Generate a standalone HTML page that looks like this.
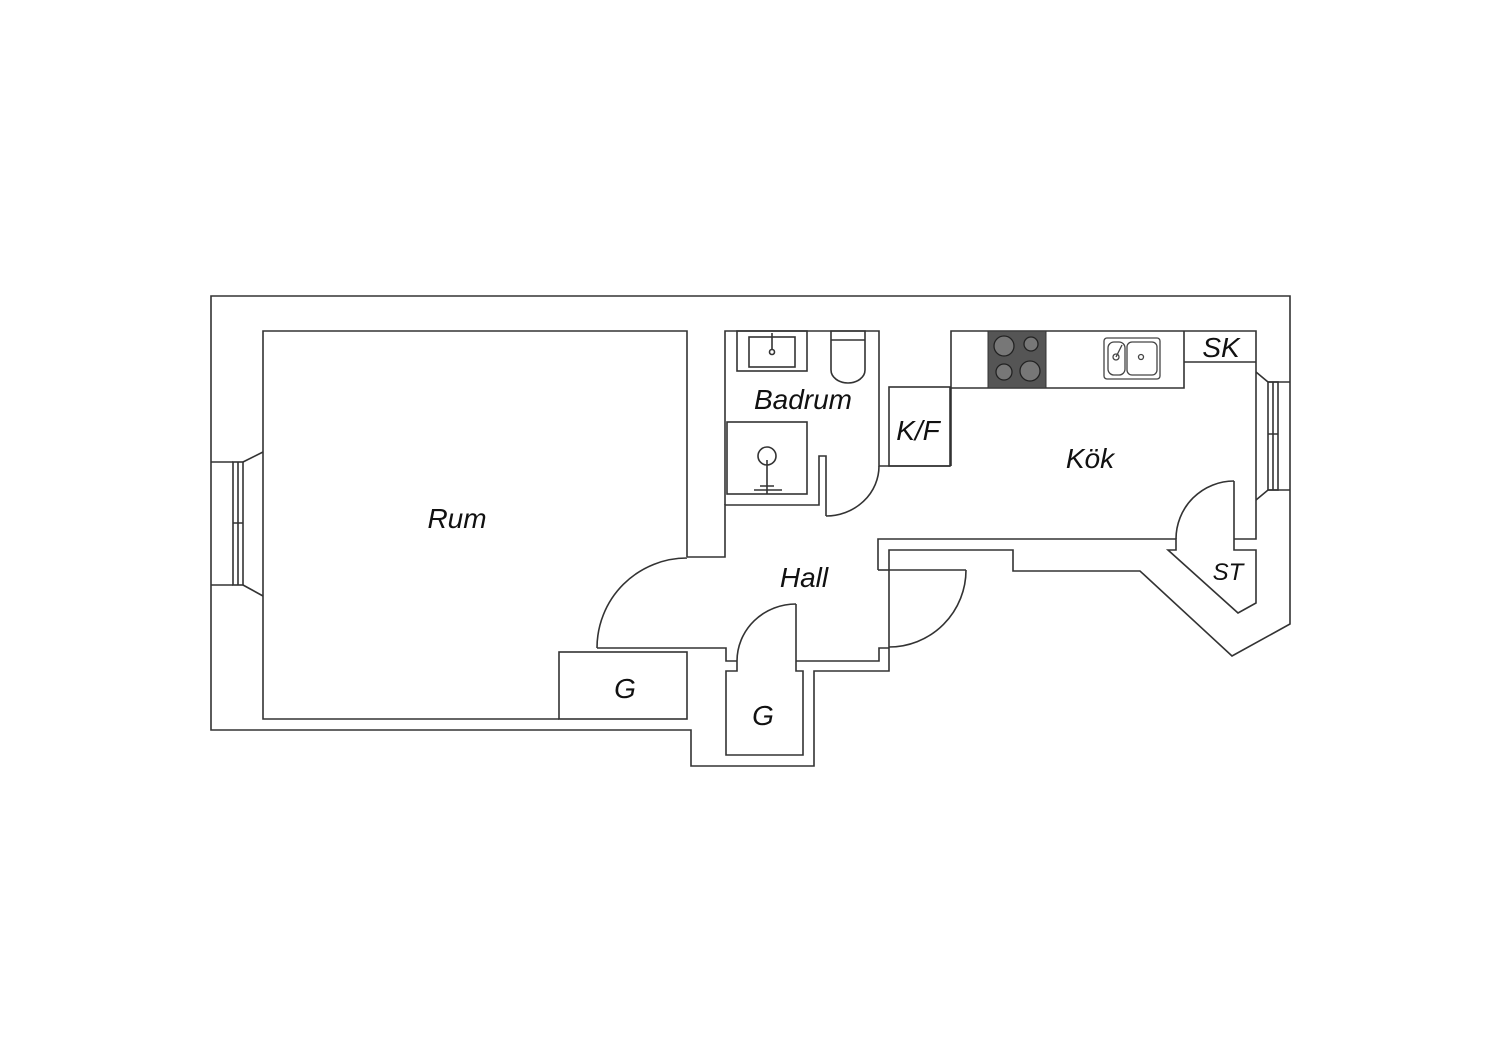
<!DOCTYPE html>
<html><head><meta charset="utf-8"><style>
html,body{margin:0;padding:0;background:#fff;width:1500px;height:1060px;overflow:hidden}
svg text{font-family:"Liberation Sans",sans-serif;font-style:italic;fill:#111}
</style></head><body>
<svg width="1500" height="1060" viewBox="0 0 1500 1060" xmlns="http://www.w3.org/2000/svg">
<g fill="none" stroke="#333" stroke-width="1.6">
<!-- outer boundary -->
<path d="M211,296 H1290 V624 L1232,656 L1140,571 H1013 V550 H889 V671 H814 V766 H691 V730 H211 Z"/>
<path d="M889,648 H879 V661 H796"/>
<!-- Rum -->
<path d="M687,557 V331 H263 V719 H559"/>
<rect x="559" y="652" width="128" height="67"/>
<!-- Rum door -->
<path d="M597,648 A90,90 0 0 1 687,558"/>
<path d="M687,557 H725 V505 H819 V456 H826 V516"/>
<path d="M597,648 H726 V661 H737"/>
<!-- bathroom -->
<path d="M725,505 V331 H879 V466 H950"/>
<path d="M879,466 A53,50 0 0 1 826,516"/>
<rect x="889" y="387" width="61" height="79"/>
<!-- kitchen -->
<path d="M951,466 V331 H1256 V539 H1234"/>
<path d="M951,388 H1184 V331 M1184,362 H1256"/>
<path d="M878,570 V539 H1176 V550 H1168 L1238,613 L1256,603 V550 H1234 V539 M1234,539 V481"/>
<path d="M1234,481 A58,58 0 0 0 1176,539"/>
<path d="M878,570 H889"/>
<!-- hall right door -->
<path d="M966,570 A77,77 0 0 1 889,647"/>
<path d="M966,570 H889"/>
<!-- G closet -->
<path d="M737,661 V671 H726 V755 H803 V671 H796 V661"/>
<path d="M796,661 V604"/>
<path d="M796,604 A59,57 0 0 0 737,661"/>
<!-- left window -->
<path d="M211,462 H233 M243,462 L263,452 M211,585 H233 M243,585 L263,596"/>
<rect x="233" y="462" width="10" height="123"/>
<path d="M238,462 V585 M233,523 H243"/>
<!-- right window -->
<path d="M1256,372 L1268,382 H1290 M1256,500 L1268,490 H1290"/>
<rect x="1268" y="382" width="10" height="108"/>
<path d="M1273,382 V490 M1268,434 H1278"/>
<!-- bath fixtures -->
<rect x="737" y="331" width="70" height="40"/>
<rect x="749" y="337" width="46" height="30"/>
<path d="M772,333 V350"/><circle cx="772" cy="352" r="2.5"/>
<path d="M831,331 H865 V370 A17,13 0 0 1 831,370 Z M831,340 H865"/>
<rect x="727" y="422" width="80" height="72"/>
<circle cx="767" cy="456" r="9"/>
<path d="M767,460 V494 M754,490 H782 M760,486 H774"/>
</g>
<rect x="988" y="331" width="58" height="57" fill="#555" stroke="#333"/>
<g fill="#777" stroke="#222" stroke-width="1.3">
<circle cx="1004" cy="346" r="10"/><circle cx="1031" cy="344" r="7"/>
<circle cx="1004" cy="372" r="8"/><circle cx="1030" cy="371" r="10"/>
</g>
<g fill="none" stroke="#444" stroke-width="1.3">
<rect x="1104" y="338" width="56" height="41" rx="3"/>
<rect x="1108" y="342" width="17" height="33" rx="6"/>
<rect x="1127" y="342" width="30" height="33" rx="5"/>
<circle cx="1116" cy="357" r="3"/><circle cx="1141" cy="357" r="2.5"/>
<path d="M1116,357 L1122,345"/>
</g>
<text x="457" y="528" font-size="28" text-anchor="middle">Rum</text>
<text x="803" y="409" font-size="28" text-anchor="middle">Badrum</text>
<text x="918" y="440" font-size="28" text-anchor="middle">K/F</text>
<text x="1090" y="468" font-size="28" text-anchor="middle">Kök</text>
<text x="1221" y="357" font-size="28" text-anchor="middle">SK</text>
<text x="804" y="587" font-size="28" text-anchor="middle">Hall</text>
<text x="625" y="698" font-size="28" text-anchor="middle">G</text>
<text x="763" y="725" font-size="28" text-anchor="middle">G</text>
<text x="1228" y="580" font-size="24" text-anchor="middle">ST</text>
</svg>
</body></html>
